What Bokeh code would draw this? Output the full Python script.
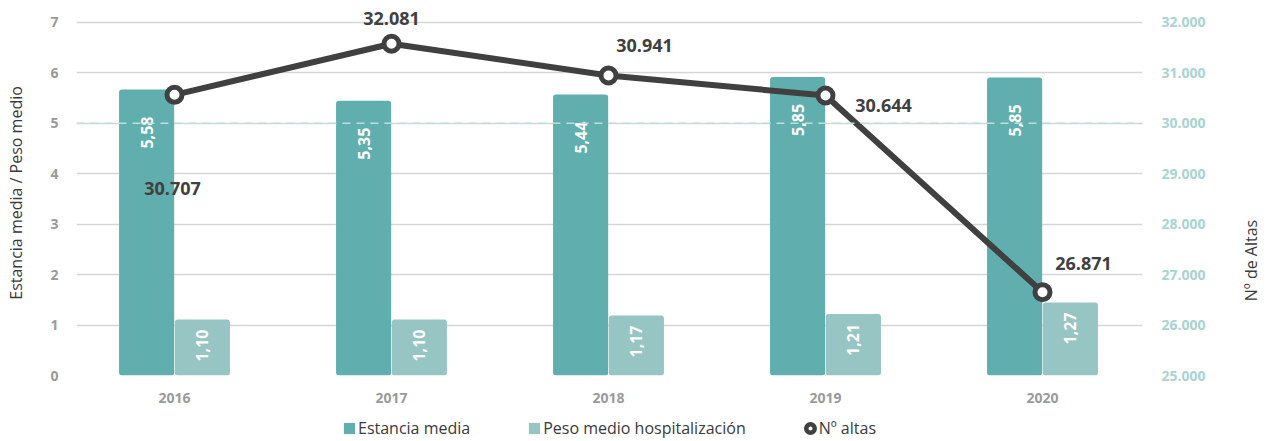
import math
from bokeh.plotting import figure
from bokeh.layouts import column, row
from bokeh.models import (Range1d, LinearAxis, FixedTicker, Span, Legend, LegendItem,
                          ColumnDataSource, Label)
from bokeh.core.properties import value
from bokeh.transform import dodge
from bokeh.embed import file_html
from bokeh.resources import INLINE

# ---------------- data ----------------
years = ["2016", "2017", "2018", "2019", "2020"]
estancia = [5.67, 5.45, 5.57, 5.92, 5.91]          # bar heights as drawn
peso = [1.11, 1.11, 1.19, 1.22, 1.45]              # bar heights as drawn
altas = [30566, 31578, 30949, 30552, 26652]        # line points as drawn (right axis)
estancia_text = ["5,58", "5,35", "5,44", "5,85", "5,85"]
peso_text = ["1,10", "1,10", "1,17", "1,21", "1,27"]
altas_text = ["30.707", "32.081", "30.941", "30.644", "26.871"]
left_ticks = [0, 1, 2, 3, 4, 5, 6, 7]
right_ticks = [25000, 26000, 27000, 28000, 29000, 30000, 31000, 32000]
right_tick_labels = ["25.000", "26.000", "27.000", "28.000", "29.000", "30.000", "31.000", "32.000"]
series_names = ["Estancia media", "Peso medio hospitalización", "Nº altas"]
left_title = "Estancia media / Peso medio"
right_title = "Nº de Altas"

# ---------------- styling ----------------
altas_dx = [-2, 0, 36, 58, 41]     # label offsets (px)
altas_dy = [94, -25, -30, 10, -29]
C_EST = "#60aead"
C_PESO = "#96c5c3"
C_LINE = "#404040"
C_TXT = "#3a3a3a"
FONT = "Open Sans"
Y_END = 7.436
LEFT_TITLE_Y = 3.62     # vertical centre of the axis titles (left-axis units)
RIGHT_TITLE_Y = 2.28

x = list(range(len(years)))
src = ColumnDataSource(dict(x=x, estancia=estancia, peso=peso, altas=altas,
                            et=estancia_text, pt=peso_text, at=altas_text,
                            dx=altas_dx, dy=altas_dy))

yr = Range1d(0, Y_END)
p = figure(frame_width=1066, frame_height=375,
           x_range=Range1d(-0.4516, 4.4608), y_range=yr,
           output_backend="svg", toolbar_location=None,
           min_border_left=46, min_border_right=92, min_border_top=0, min_border_bottom=30)
p.outline_line_color = None
p.extra_y_ranges = {"altas": Range1d(25000, 25000 + Y_END * 1000)}

# grid
p.xgrid.visible = False
p.ygrid.ticker = FixedTicker(ticks=left_ticks)
p.ygrid.grid_line_color = "#d6d6d6"
p.ygrid.grid_line_width = 1.5

# x axis
xa = p.xaxis[0]
xa.ticker = FixedTicker(ticks=x)
xa.major_label_overrides = {i: y for i, y in zip(x, years)}
xa.axis_line_color = None
xa.major_tick_line_color = None
xa.minor_tick_line_color = None
xa.major_label_standoff = 11
xa.major_label_text_font = FONT
xa.major_label_text_font_style = "bold"
xa.major_label_text_font_size = "14px"
xa.major_label_text_color = "#9a9a9a"

# left axis
ya = p.yaxis[0]
ya.ticker = FixedTicker(ticks=left_ticks)
ya.axis_line_color = None
ya.major_tick_line_color = None
ya.minor_tick_line_color = None
ya.major_label_standoff = 12
ya.major_label_text_font = FONT
ya.major_label_text_font_style = "bold"
ya.major_label_text_font_size = "14px"
ya.major_label_text_color = "#9a9a9a"

# right axis
ra = LinearAxis(y_range_name="altas", ticker=FixedTicker(ticks=right_ticks),
                major_label_overrides={t: l for t, l in zip(right_ticks, right_tick_labels)})
ra.axis_line_color = None
ra.major_tick_line_color = None
ra.minor_tick_line_color = None
ra.major_label_standoff = 13
ra.major_label_text_font = FONT
ra.major_label_text_font_style = "bold"
ra.major_label_text_font_size = "14px"
ra.major_label_text_color = "#a8d4d1"
p.add_layout(ra, "right")

p.add_layout(Span(location=5, dimension="width", line_color="#bcdfdc",
                  line_dash="8 6", line_width=1.5))

# bars
off = 0.1285
bw = 0.254
p.vbar(x=dodge("x", -off, range=p.x_range), top="estancia", width=bw, source=src,
       fill_color=C_EST, line_color=None, border_radius=3)
p.vbar(x=dodge("x", off, range=p.x_range), top="peso", width=bw, source=src,
       fill_color=C_PESO, line_color=None, border_radius=3)

p.text(x=dodge("x", -off, range=p.x_range), y="estancia", text="et", source=src,
       angle=math.pi / 2, text_align="right", text_baseline="middle", y_offset=27,
       text_color="white", text_font=value(FONT), text_font_style="bold",
       text_font_size=value("16px"))
p.text(x=dodge("x", off, range=p.x_range), y="peso", text="pt", source=src,
       angle=math.pi / 2, text_align="right", text_baseline="middle", y_offset=10,
       text_color="white", text_font=value(FONT), text_font_style="bold",
       text_font_size=value("16px"))

# line
p.line("x", "altas", source=src, y_range_name="altas", line_color=C_LINE,
       line_width=6, line_join="round")
p.scatter("x", "altas", source=src, y_range_name="altas", size=15, fill_color="white",
          line_color=C_LINE, line_width=5)
p.text("x", "altas", text="at", source=src, y_range_name="altas",
       x_offset="dx", y_offset="dy", text_align="center", text_baseline="middle",
       text_color=C_LINE, text_font=value(FONT), text_font_style="bold",
       text_font_size=value("18px"))


def title_strip(width):
    s = figure(width=width, height=405, x_range=Range1d(0, 1), y_range=yr,
               x_axis_type=None, y_axis_type=None, output_backend="svg",
               toolbar_location=None, min_border_left=0, min_border_right=0,
               min_border_top=0, min_border_bottom=30)
    s.outline_line_color = None
    s.xgrid.visible = False
    s.ygrid.visible = False
    return s


# ---------------- axis title strips ----------------
lt = title_strip(30)
lt.add_layout(Label(x=0.5, y=LEFT_TITLE_Y, text=left_title, angle=math.pi / 2,
                    text_align="center", text_baseline="middle", text_font=FONT,
                    text_font_size="16px", text_color=C_TXT))
rt = title_strip(33)
rt.add_layout(Label(x=0.5, y=RIGHT_TITLE_Y, text=right_title, angle=math.pi / 2,
                    text_align="center", text_baseline="middle", text_font=FONT,
                    text_font_size="16px", text_color=C_TXT))

# ---------------- legend strip ----------------
q = figure(width=1267, height=36, x_range=Range1d(-11, -10), y_range=Range1d(10, 20),
           x_axis_type=None, y_axis_type=None, output_backend="svg", toolbar_location=None,
           min_border_left=76, min_border_right=125, min_border_top=10, min_border_bottom=0)
q.outline_line_color = None
q.xgrid.visible = False
q.ygrid.visible = False
# legend-only renderers: same data, outside this strip's visible range
gA = q.vbar(x="x", top="estancia", width=0.1, source=src, fill_color=C_EST, line_color=None)
gB = q.vbar(x="x", top="peso", width=0.1, source=src, fill_color=C_PESO, line_color=None)
gC1 = q.scatter(x="x", y="estancia", source=src, fill_color=C_LINE, line_color=C_LINE,
                line_width=7.4)
gC2 = q.scatter(x="x", y="estancia", source=src, fill_color="white", line_color=C_LINE,
                line_width=1.6)
leg = Legend(items=[LegendItem(label=series_names[0], renderers=[gA]),
                    LegendItem(label=series_names[1], renderers=[gB]),
                    LegendItem(label=series_names[2], renderers=[gC1, gC2])],
             orientation="horizontal", location="center", padding=0, margin=0,
             border_line_color=None, background_fill_alpha=0,
             glyph_width=14, glyph_height=14, label_standoff=2, spacing=57,
             label_text_font=FONT, label_text_font_size="16px", label_text_color=C_TXT,
             label_height=20)
q.add_layout(leg)

layout = column(row(lt, p, rt, spacing=0), q, spacing=0)
open("out.html", "w").write(file_html(layout, INLINE))
